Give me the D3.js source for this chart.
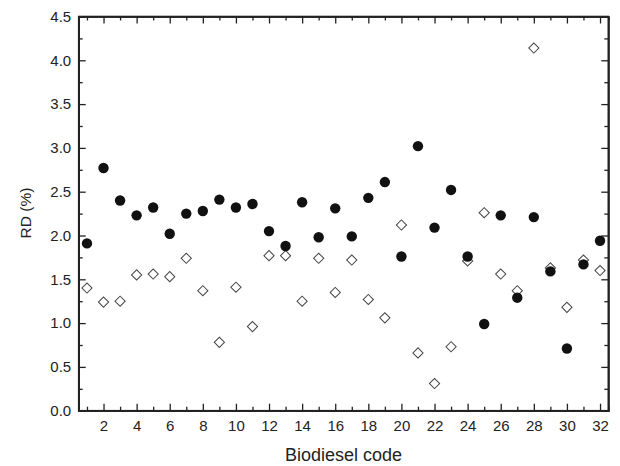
<!DOCTYPE html>
<html><head><meta charset="utf-8">
<script src="https://cdn.jsdelivr.net/npm/d3@7"></script>
<style>body{margin:0;background:#fff}svg{display:block}text{font-family:"Liberation Sans",Arial,sans-serif;fill:#222}</style>
</head><body><svg id="c" width="620" height="466"></svg>
<script>
const codes = d3.range(1, 33);
const seriesFilled = [1.91,2.77,2.40,2.23,2.32,2.02,2.25,2.28,2.41,2.32,2.36,2.05,1.88,2.38,1.98,2.31,1.99,2.43,2.61,1.76,3.02,2.09,2.52,1.76,0.99,2.23,1.29,2.21,1.59,0.71,1.67,1.94];
const seriesOpen = [1.40,1.24,1.25,1.55,1.56,1.53,1.74,1.37,0.78,1.41,0.96,1.77,1.77,1.25,1.74,1.35,1.72,1.27,1.06,2.12,0.66,0.31,0.73,1.71,2.26,1.56,1.37,4.14,1.63,1.18,1.72,1.60];
const xTickLabels = [2,4,6,8,10,12,14,16,18,20,22,24,26,28,30,32];
const yTickLabels = [0,0.5,1,1.5,2,2.5,3,3.5,4,4.5];
const xLabel = "Biodiesel code", yLabel = "RD (%)";

const L = 78.7, R = 608.3, T = 16.5, B = 410.7;
const svg = d3.select("#c");
const x = d3.scaleLinear().domain([0.5, 32.5]).range([L, R]);
const y = d3.scaleLinear().domain([0, 4.5]).range([B, T]);
const ax = "#222";

const majorLen = 7, minorLen = 4;
const xMinor = codes.filter(v => v % 2 === 1);
const yMinor = d3.range(0.25, 4.5, 0.5);

// bottom axis
const gb = svg.append("g").attr("transform", `translate(0,${B})`)
  .call(d3.axisBottom(x).tickValues(xTickLabels).tickSizeInner(-majorLen).tickSizeOuter(0).tickPadding(10).tickFormat(d3.format("d")));
gb.append("g").call(d3.axisBottom(x).tickValues(xMinor).tickSize(-minorLen).tickFormat(""));
// top axis
const gt = svg.append("g").attr("transform", `translate(0,${T})`)
  .call(d3.axisTop(x).tickValues(xTickLabels).tickSizeInner(-majorLen).tickSizeOuter(0).tickFormat(""));
gt.append("g").call(d3.axisTop(x).tickValues(xMinor).tickSize(-minorLen).tickFormat(""));
// left axis
const gl = svg.append("g").attr("transform", `translate(${L},0)`)
  .call(d3.axisLeft(y).tickValues(yTickLabels).tickSizeInner(-majorLen).tickSizeOuter(0).tickPadding(7.5).tickFormat(d3.format(".1f")));
gl.append("g").call(d3.axisLeft(y).tickValues(yMinor).tickSize(-minorLen).tickFormat(""));
// right axis
const gr = svg.append("g").attr("transform", `translate(${R},0)`)
  .call(d3.axisRight(y).tickValues(yTickLabels).tickSizeInner(-majorLen).tickSizeOuter(0).tickFormat(""));
gr.append("g").call(d3.axisRight(y).tickValues(yMinor).tickSize(-minorLen).tickFormat(""));

svg.selectAll(".domain").attr("stroke", ax).attr("stroke-width", 1.6);
svg.selectAll(".tick line").attr("stroke", ax).attr("stroke-width", 1.3);
svg.selectAll(".tick text").attr("font-size", 15).style("font-family", '"Liberation Sans",Arial,sans-serif').attr("fill", "#222");
// frame lines
svg.append("rect").attr("x", L).attr("y", T).attr("width", R - L).attr("height", B - T)
  .attr("fill", "none").attr("stroke", ax).attr("stroke-width", 1.6);

// open diamonds
const sym = d3.symbol().type(d3.symbolSquare).size(52);
svg.append("g").selectAll("path").data(codes).join("path")
  .attr("d", sym)
  .attr("transform", (d, i) => `translate(${x(d)},${y(seriesOpen[i])}) rotate(45)`)
  .attr("fill", "#fff").attr("stroke", "#444").attr("stroke-width", 1);
// filled circles
svg.append("g").selectAll("circle").data(codes).join("circle")
  .attr("cx", d => x(d)).attr("cy", (d, i) => y(seriesFilled[i])).attr("r", 5.2)
  .attr("fill", "#111");

svg.append("text").attr("x", 343.5).attr("y", 461).attr("text-anchor", "middle").attr("font-size", 18).text(xLabel);
svg.append("text").attr("transform", `translate(31,213) rotate(-90)`).attr("text-anchor", "middle").attr("font-size", 15.5).text(yLabel);
</script></body></html>
